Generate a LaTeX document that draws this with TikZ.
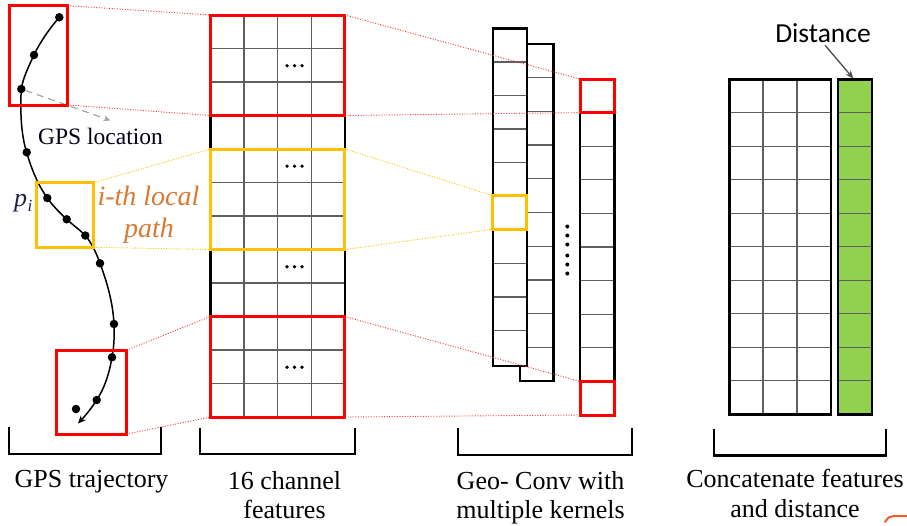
\documentclass[tikz,border=0pt]{standalone}
\usepackage{fontspec}
\setmainfont{Liberation Serif}
\newfontfamily\labelsans{Carlito}
\usetikzlibrary{arrows.meta}

\definecolor{hlred}{RGB}{255,0,0}
\definecolor{hlyellow}{RGB}{255,192,0}
\definecolor{cellgray}{RGB}{95,95,95}
\definecolor{distgreen}{RGB}{146,208,80}
\definecolor{pathorange}{RGB}{214,122,52}
\definecolor{inkblue}{RGB}{28,34,70}
\definecolor{arrowgray}{RGB}{165,165,165}
\definecolor{scribble}{RGB}{240,90,40}

\begin{document}
\begin{tikzpicture}[x=1pt,y=-1pt,
  redbox/.style={draw=hlred, line width=3pt, inner sep=0pt, outer sep=0pt},
  yelbox/.style={draw=hlyellow, line width=3pt, inner sep=0pt, outer sep=0pt},
  redlink/.style={draw=hlred!80, line width=0.9pt, dash pattern=on 1pt off 1.6pt},
  yellink/.style={draw=hlyellow, line width=0.9pt, dash pattern=on 1pt off 1.6pt},
  cellline/.style={draw=cellgray, line width=1.3pt},
  frame/.style={draw=black, line width=2.4pt},
  bracket/.style={draw=black, line width=2.3pt},
  caption/.style={font=\fontsize{26}{30}\selectfont, anchor=base, inner sep=0pt},
  gpsdot/.style={circle, fill=black, inner sep=0pt, minimum size=8.5pt},
]
\useasboundingbox (0,0) rectangle (907,525);

% ---------- 16-channel feature grid (4 columns x 12 rows) ----------
\fill[white] (210.5,15) rectangle (344.9,417);
\foreach \k in {1,...,11}
  \draw[cellline] (210.5,{15+33.5*\k}) -- (344.9,{15+33.5*\k});
\foreach \k in {1,2,3}
  \draw[cellline] ({210.5+33.6*\k},15) -- ({210.5+33.6*\k},417);
\draw[frame] (210.5,15) rectangle (344.9,417);
\foreach \r in {1,4,7,10}
  \foreach \dx in {-7.5,0,7.5}
    \fill ({294.5+\dx},{15+33.5*\r+17.2}) circle (1.8);

\node[redbox, minimum width=134.4pt, minimum height=100.5pt] (gA) at (277.7,65.25) {};
\node[yelbox, minimum width=134.4pt, minimum height=100.5pt] (gY) at (277.7,199.25) {};
\node[redbox, minimum width=134.4pt, minimum height=100.5pt] (gB) at (277.7,366.75) {};

% ---------- Geo-Conv output columns ----------
% back column
\fill[white] (520,44) rectangle (553.3,381);
\foreach \k in {1,...,9}
  \draw[cellline] (520,{44+33.7*\k}) -- (553.3,{44+33.7*\k});
\draw[frame] (520,44) rectangle (553.3,381);
% front column
\fill[white] (492.7,28.3) rectangle (526.7,366);
\foreach \k in {1,...,9}
  \draw[cellline] (492.7,{28.3+33.6*\k}) -- (526.7,{28.3+33.6*\k});
\draw[frame] (492.7,28.3) rectangle (526.7,366);
% last kernel column
\fill[white] (580,79) rectangle (614.3,415);
\foreach \k in {1,...,9}
  \draw[cellline] (580,{79+33.6*\k}) -- (614.3,{79+33.6*\k});
\draw[frame] (580,79) rectangle (614.3,415);
% vertical ellipsis between kernels
\foreach \y in {226.5,235.5,244.5,255.5,264.5,273.5}
  \fill (567.3,\y) circle (2);

\node[yelbox, minimum width=34pt, minimum height=33.6pt] (cY) at (509.7,212.4) {};
\node[redbox, minimum width=34.3pt, minimum height=33.6pt] (cA) at (597.15,95.8) {};
\node[redbox, minimum width=34.3pt, minimum height=33.6pt] (cB) at (597.15,398.2) {};

% ---------- concatenated features and distance ----------
\fill[white] (729.3,79.3) rectangle (830.7,414.3);
\foreach \k in {1,...,9}
  \draw[cellline] (729.3,{79.3+33.5*\k}) -- (830.7,{79.3+33.5*\k});
\foreach \k in {1,2}
  \draw[cellline] ({729.3+33.8*\k},79.3) -- ({729.3+33.8*\k},414.3);
\draw[frame] (729.3,79.3) rectangle (830.7,414.3);

\fill[distgreen] (838,79.3) rectangle (871.7,414.3);
\foreach \k in {1,...,9}
  \draw[cellline] (838,{79.3+33.5*\k}) -- (871.7,{79.3+33.5*\k});
\draw[frame] (838,79.3) rectangle (871.7,414.3);
\coordinate (gTop) at (853.3,78.5);

\node[anchor=base, inner sep=0pt, font=\labelsans\fontsize{27.5}{30}\selectfont] (dist) at (823,42.3) {Distance};
\draw[draw=black!70, line width=1.3pt, -{Stealth[length=8pt,width=6.5pt]}] (dist.south) ++(2,2.5) -- (gTop);

% ---------- GPS trajectory ----------
\node[gpsdot] (d1) at (59.3,17.3) {};
\node[gpsdot] (d2) at (34,55) {};
\node[gpsdot] (d3) at (21.3,89) {};
\node[gpsdot] (d4) at (26.7,152.3) {};
\node[gpsdot] (d5) at (47.3,198) {};
\node[gpsdot] (d6) at (66.7,219.3) {};
\node[gpsdot] (d7) at (85.3,235.5) {};
\node[gpsdot] (d8) at (100,263.3) {};
\node[gpsdot] (d9) at (114,324) {};
\node[gpsdot] (d10) at (112,357.3) {};
\node[gpsdot] (d11) at (96.7,400) {};
\node[gpsdot] (d12) at (76,409) {};
\coordinate (trEnd) at (78,423.5);

\draw[line width=1.5pt, -{Stealth[length=8pt,width=7pt]}]
  (d1.center) .. controls (50,28) and (40,42) .. (d2.center)
  .. controls (28,68) and (23,78) .. (d3.center)
  .. controls (20,110) and (21,135) .. (d4.center)
  .. controls (31,168) and (38,185) .. (d5.center)
  .. controls (53,206) and (60,213) .. (d6.center)
  .. controls (73,225) and (80,230) .. (d7.center)
  .. controls (91,242) and (96,252) .. (d8.center)
  .. controls (107,282) and (113,303) .. (d9.center)
  .. controls (114.5,336) and (114,347) .. (d10.center)
  .. controls (109,375) and (104,389) .. (d11.center)
  .. controls (91,409) and (85,416) .. (trEnd);

\coordinate (gpsTip) at (110.5,120.5);
\draw[draw=arrowgray, line width=1.2pt, dash pattern=on 7pt off 5pt, -{Stealth[length=7pt,width=6pt]}] (d3) -- (gpsTip);
\node[anchor=base, inner sep=0pt, font=\fontsize{23.5}{26}\selectfont, text=black!90!blue] (gpsLoc) at (100.5,144) {GPS location};

\node[redbox, minimum width=58.4pt, minimum height=99.3pt] (tA) at (38.5,55.35) {};
\node[yelbox, minimum width=57.3pt, minimum height=64.6pt] (tY) at (64.65,215) {};
\node[redbox, minimum width=70pt, minimum height=84pt] (tB) at (91.7,392) {};

\node[anchor=base west, inner sep=0pt, text=inkblue, font=\fontsize{26}{28}\selectfont\itshape] (pI) at (14,206.5)
  {p\kern0.5pt\raisebox{-4.5pt}{\fontsize{17}{17}\selectfont i}};
\node[anchor=base, inner sep=0pt, text=pathorange, font=\fontsize{28}{32}\selectfont\itshape] (locA) at (148.5,205) {i-th local};
\node[anchor=base, inner sep=0pt, text=pathorange, font=\fontsize{28}{32}\selectfont\itshape] (locB) at (149,237.3) {path};

% ---------- dotted correspondence links ----------
\draw[redlink] (tA.north east) -- (gA.north west);
\draw[redlink] (tA.south east) -- (gA.south west);
\draw[yellink] (tY.north east) -- (gY.north west);
\draw[yellink] (tY.south east) -- (gY.south west);
\draw[redlink] (tB.north east) -- (gB.north west);
\draw[redlink] (tB.south east) -- (gB.south west);

\draw[redlink] (gA.north east) -- (cA.north west);
\draw[redlink] (gA.south east) -- (cA.south west);
\draw[yellink] (gY.north east) -- (cY.north west);
\draw[yellink] (gY.south east) -- (cY.south west);
\draw[redlink] (gB.north east) -- (cB.north west);
\draw[redlink] (gB.south east) -- (cB.south west);

% ---------- brackets and captions ----------
\draw[bracket] (9,427) -- (9,454) -- (160.7,454) -- (160.7,427);
\draw[bracket] (200,428) -- (200,454) -- (355,454) -- (355,428);
\draw[bracket] (458,428) -- (458,455) -- (632,455) -- (632,428);
\draw[bracket] (714.3,429) -- (714.3,455.5) -- (885.7,455.5) -- (885.7,429);

\node[caption] (capA) at (91.5,487.5) {GPS trajectory};
\node[caption] (capB1) at (284.5,489) {16 channel};
\node[caption] (capB2) at (284.5,518.5) {features};
\node[caption] (capC1) at (540.5,489) {Geo- Conv with};
\node[caption] (capC2) at (540.5,518.5) {multiple kernels};
\node[caption] (capD1) at (795,487.5) {Concatenate features};
\node[caption] (capD2) at (795,517) {and distance};

% small pen stroke in the lower right corner
\draw[draw=scribble, line width=2pt, line cap=round] (885,522) .. controls (889,516.5) .. (896,516) -- (907,516);
\end{tikzpicture}
\end{document}
